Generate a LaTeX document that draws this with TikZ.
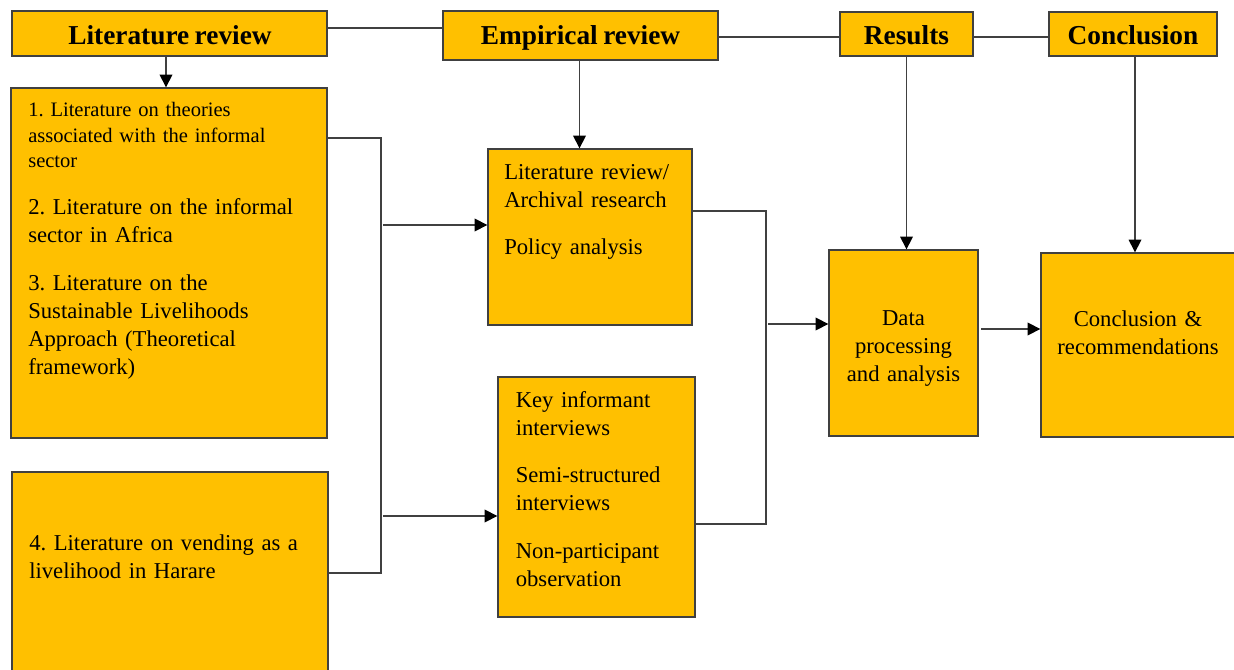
\documentclass[tikz,border=0pt]{standalone}
\usepackage{fontspec}
\setmainfont{Liberation Serif}[WordSpace=0.8]
\usetikzlibrary{arrows.meta,fit}
\definecolor{gold}{RGB}{255,192,0}
\definecolor{edge}{RGB}{64,64,64}
\frenchspacing

\begin{document}
\begin{tikzpicture}[x=0.75pt,y=-0.75pt,
  box/.style={draw=edge, fill=gold, line width=1pt, inner sep=0pt},
  conn/.style={draw=edge, line width=1pt},
  arr/.style={conn, -{Triangle[length=9.5pt,width=9.5pt,color=black]}},
  hd/.style={inner sep=0pt, anchor=base, font=\fontsize{20.5}{24}\selectfont\bfseries},
  txt/.style={inner sep=0pt, anchor=base west, align=left, font=\fontsize{17}{21.2}\selectfont},
  ctxt/.style={inner sep=0pt, anchor=base, align=center, font=\fontsize{17}{21.2}\selectfont},
]
\useasboundingbox (0,0) rectangle (1234,670);
\clip (0,0) rectangle (1234,670);

% header row
\node[box, fit={(12,11) (327,56)}] (litrev) {};
\node[hd] (litrev-t) at (170,45) {Literature review};
\node[box, fit={(443,11) (718,60)}] (emprev) {};
\node[hd] (emprev-t) at (580.5,45) {Empirical review};
\node[box, fit={(840,12) (973,56)}] (results) {};
\node[hd] (results-t) at (906.5,45) {Results};
\node[box, fit={(1049,12) (1217,56)}] (conc) {};
\node[hd] (conc-t) at (1133,45) {Conclusion};

% literature boxes
\node[box, fit={(11,88) (327,438)}] (box1) {};
\node[txt, font=\fontsize{15.4}{19.1}\selectfont, text width=217pt] (b1p1) at (28,117)
  {1. Literature on theories\\associated with the informal\\sector};
\node[txt, text width=217pt] (b1p2) at (28,214.3)
  {2. Literature on the informal\\sector in Africa};
\node[txt, text width=217pt] (b1p3) at (28,290)
  {3. Literature on the\\Sustainable Livelihoods\\Approach (Theoretical\\framework)};

\node[box, fit={(12,472) (328,680)}] (box4) {};
\node[txt, text width=217pt] (b4p1) at (29,550)
  {4. Literature on vending as a\\livelihood in Harare};

% empirical methods
\node[box, fit={(488,149) (692,325)}] (boxA) {};
\node[txt, text width=136pt] (bAp1) at (504,179.3) {Literature review/\\Archival research};
\node[txt, text width=136pt] (bAp2) at (504,255) {Policy analysis};

\node[box, fit={(498,377) (695,617)}] (boxB) {};
\node[txt, text width=130pt] (bBp1) at (515.5,407.7) {Key informant\\interviews};
\node[txt, text width=130pt] (bBp2) at (515.5,482.7) {Semi-structured\\interviews};
\node[txt, text width=130pt] (bBp3) at (515.5,558.3) {Non-participant\\observation};

% analysis and conclusion
\node[box, fit={(829,250) (978,436)}] (data) {};
\node[ctxt, text width=105pt] (data-t) at (903.5,325) {Data\\processing\\and analysis};
\node[box, fit={(1041,253) (1240,437)}] (concl) {};
\node[ctxt, text width=140pt] (concl-t) at (1138,326) {Conclusion \&\\recommendations};

% header links
\coordinate (lr-out) at (327,28);
\draw[conn] (lr-out) -- (lr-out -| emprev.west);
\coordinate (er-out) at (718,37);
\draw[conn] (er-out) -- (er-out -| results.west);
\coordinate (rs-out) at (973,37);
\draw[conn] (rs-out) -- (rs-out -| conc.west);

% downward arrows
\coordinate (lr-down) at (166,56);
\draw[arr] (lr-down) -- (lr-down |- box1.north);
\coordinate (er-down) at (579.5,60);
\draw[arr] (er-down) -- (er-down |- boxA.north);
\draw[arr] (results.south) -- (results.south |- data.north);
\coordinate (cn-down) at (1135,56);
\draw[arr] (cn-down) -- (cn-down |- concl.north);

% left bracket
\coordinate (bl-top) at (381,138);
\coordinate (bl-bot) at (381,573);
\draw[conn] (box1.east |- bl-top) -- (bl-top) -- (bl-bot) -- (box4.east |- bl-bot);
\coordinate (bl-a) at (383,225);
\draw[arr] (bl-a) -- (bl-a -| boxA.west);
\coordinate (bl-b) at (383,516);
\draw[arr] (bl-b) -- (bl-b -| boxB.west);

% right bracket
\coordinate (br-top) at (766,211);
\coordinate (br-bot) at (766,524);
\draw[conn] (boxA.east |- br-top) -- (br-top) -- (br-bot) -- (boxB.east |- br-bot);
\coordinate (br-mid) at (768,324);
\draw[arr] (br-mid) -- (br-mid -| data.west);

% analysis to conclusion
\coordinate (dc) at (981,329);
\draw[arr] (dc) -- (dc -| concl.west);
\end{tikzpicture}
\end{document}
